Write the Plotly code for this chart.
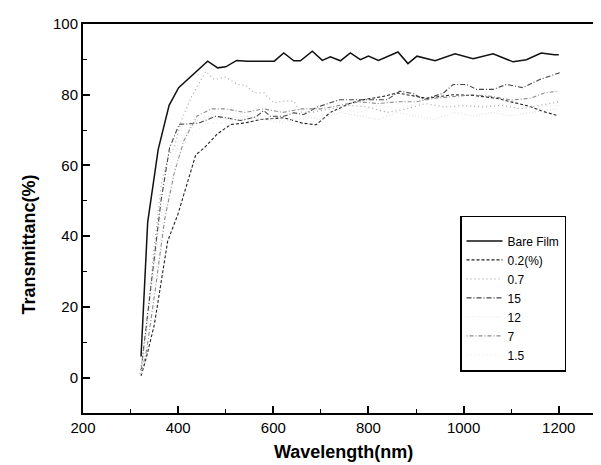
import plotly.graph_objects as go

# ── data ──────────────────────────────────────────────────────────────────────

bare_x = [322, 336, 358, 381, 401, 420, 462, 483, 500, 523, 545, 602, 622, 643, 657, 682, 703,
          720, 741, 762, 783, 800, 821, 862, 883, 902, 940, 982, 1020, 1062, 1104, 1132, 1163,
          1191, 1200]
bare_y = [6, 44, 64.5, 77, 82, 84.3, 89.5, 87.6, 87.9, 89.7, 89.5, 89.5, 91.8, 89.6, 89.6, 92.3,
          89.7, 90.7, 89.6, 91.8, 89.9, 90.9, 89.7, 92.1, 88.8, 90.9, 89.6, 91.6, 90.2, 91.6, 89.3,
          89.9, 91.8, 91.3, 91.3]

p02_x = [322, 333, 350, 378, 399, 437, 455, 483, 511, 540, 573, 622, 660, 690, 720, 760, 790,
         830, 860, 900, 922, 978, 1020, 1069, 1097, 1139, 1167, 1195]
p02_y = [0.5, 5.6, 15, 38.6, 46, 63, 65, 69, 71.6, 72, 73, 73.5, 72, 71.5, 75, 77.5, 78.6,
         79.5, 80.5, 79.6, 79, 80, 79.8, 79, 78, 76.7, 75.3, 74.2]

p07_x = [320, 332, 348, 365, 380, 392, 406, 430, 458, 476, 500, 525, 542, 560, 580, 601, 622,
         643, 657, 680, 720, 760, 800, 840, 880, 920, 960, 1000, 1040, 1080, 1120, 1160, 1200]
p07_y = [1, 12, 35, 55, 63, 65, 72.5, 80, 86.6, 84.3, 85, 82.9, 82.7, 80.5, 80.5, 77.7, 78.2,
         78.2, 75.1, 75, 76, 77, 76.5, 75, 76, 77.5, 76.5, 77, 76.5, 77, 76, 77, 78]

p15_x = [322, 329, 347, 364, 382, 402, 444, 479, 504, 531, 563, 580, 594, 622, 643, 664, 692,
         740, 779, 839, 866, 895, 916, 958, 978, 1006, 1027, 1062, 1090, 1125, 1160, 1202]
p15_y = [2, 10, 31, 50, 65, 71.6, 72, 73.9, 73.4, 72.7, 73.7, 75.5, 73.9, 73.9, 74.9, 74.4, 76.5,
         78.6, 78.6, 78.6, 81, 80.3, 78.6, 80.5, 82.9, 82.9, 81.5, 81.5, 82.9, 82, 84.3, 86.2]

p12_x = [322, 340, 360, 380, 400, 430, 460, 500, 540, 580, 620, 660, 700, 740, 780, 820, 860,
         900, 940, 980, 1020, 1060, 1100, 1140, 1200]
p12_y = [2, 20, 42, 58, 66, 72, 74, 73, 74, 73, 72, 74, 73, 75, 74, 73, 75, 74, 73, 75, 74, 75,
         74, 75, 76]

p7_x = [322, 334, 352, 372, 392, 412, 440, 470, 500, 540, 580, 620, 660, 700, 740, 780, 820, 860,
        900, 940, 980, 1020, 1060, 1100, 1140, 1170, 1200]
p7_y = [1, 8, 25, 45, 58, 67, 74, 76, 76, 75, 76, 75, 76, 76, 77, 78, 77.5, 78, 78, 79, 79.5, 80,
        79.5, 78.5, 79, 80.5, 81]

p15b_x = [322, 345, 370, 395, 420, 460, 500, 540, 580, 620, 660, 700, 740, 780, 820, 860, 900,
          940, 980, 1020, 1060, 1100, 1140, 1200]
p15b_y = [1, 22, 46, 60, 68, 72, 72, 73.5, 74, 72.5, 73, 74, 76, 75, 77, 76, 77.5, 77, 76.5, 77,
          77, 77.5, 76.5, 77]

NARROW = "Liberation Sans Narrow, Arial Narrow, Liberation Sans, Arial, sans-serif"
SANS = "Liberation Sans, Arial, sans-serif"

fig = go.Figure()

# (name, x, y, color, dash, width)
series = [
    ("Bare Film", bare_x, bare_y, "#111111", "solid", 1.5),
    ("0.2(%)", p02_x, p02_y, "#222222", "3px,2px", 1.1),
    ("0.7", p07_x, p07_y, "#a8a8a8", "1px,3px", 1.2),
    ("15", p15_x, p15_y, "#444444", "5px,2px,1px,2px", 1.1),
    ("12", p12_x, p12_y, "#dddddd", "1px,2px", 1),
    ("7", p7_x, p7_y, "#8c8c8c", "1px,2px,4px,2px", 1.1),
    ("1.5", p15b_x, p15b_y, "#e3e3e3", "1px,3px", 1),
]
for name, xs, ys, col, dash, w in series:
    fig.add_trace(go.Scatter(
        x=xs, y=ys, mode="lines", name=name,
        line=dict(color=col, dash=dash, width=w),
    ))

axis_common = dict(
    showgrid=False,
    zeroline=False,
    showline=True,
    linecolor="#000000",
    linewidth=2,
    mirror=True,
    ticks="inside",
    ticklen=7,
    tickwidth=1.5,
    tickcolor="#000000",
    tickfont=dict(family=NARROW, size=15, color="#000000"),
)

fig.update_layout(
    width=601, height=465,
    paper_bgcolor="#ffffff",
    plot_bgcolor="#ffffff",
    margin=dict(l=75, r=4, t=16, b=60),
    font=dict(family=SANS, color="#000000"),
    showlegend=True,
    legend=dict(
        x=0.725, y=0.507, xanchor="left", yanchor="top",
        bordercolor="#000000", borderwidth=1.5,
        bgcolor="#ffffff",
        font=dict(family=SANS, size=12, color="#000000"),
        title=dict(text=" ", font=dict(size=7)),
        itemwidth=36,
        tracegroupgap=0,
    ),
    xaxis=dict(
        **axis_common,
        range=[200, 1293],
        tickvals=[200, 400, 600, 800, 1000, 1200],
        minor=dict(ticks="inside", ticklen=4, tickwidth=1.2, tickcolor="#000000",
                   tickvals=[300, 500, 700, 900, 1100]),
    ),
    yaxis=dict(
        **axis_common,
        range=[-10, 100],
        tickvals=[0, 20, 40, 60, 80, 100],
        minor=dict(ticks="inside", ticklen=4, tickwidth=1.2, tickcolor="#000000",
                   tickvals=[-10, 10, 30, 50, 70, 90]),
    ),
    annotations=[
        dict(text="<b>Wavelength(nm)</b>", xref="paper", yref="paper",
             x=0.5, y=-0.1, xanchor="center", yanchor="middle", showarrow=False,
             font=dict(family=SANS, size=18, color="#000000")),
        dict(text="<b>Transmittanc(%)</b>", xref="paper", yref="paper",
             x=-0.103, y=0.434, xanchor="center", yanchor="middle", showarrow=False,
             textangle=-90, font=dict(family=SANS, size=18, color="#000000")),
    ],
)

fig.write_html("out.html")
